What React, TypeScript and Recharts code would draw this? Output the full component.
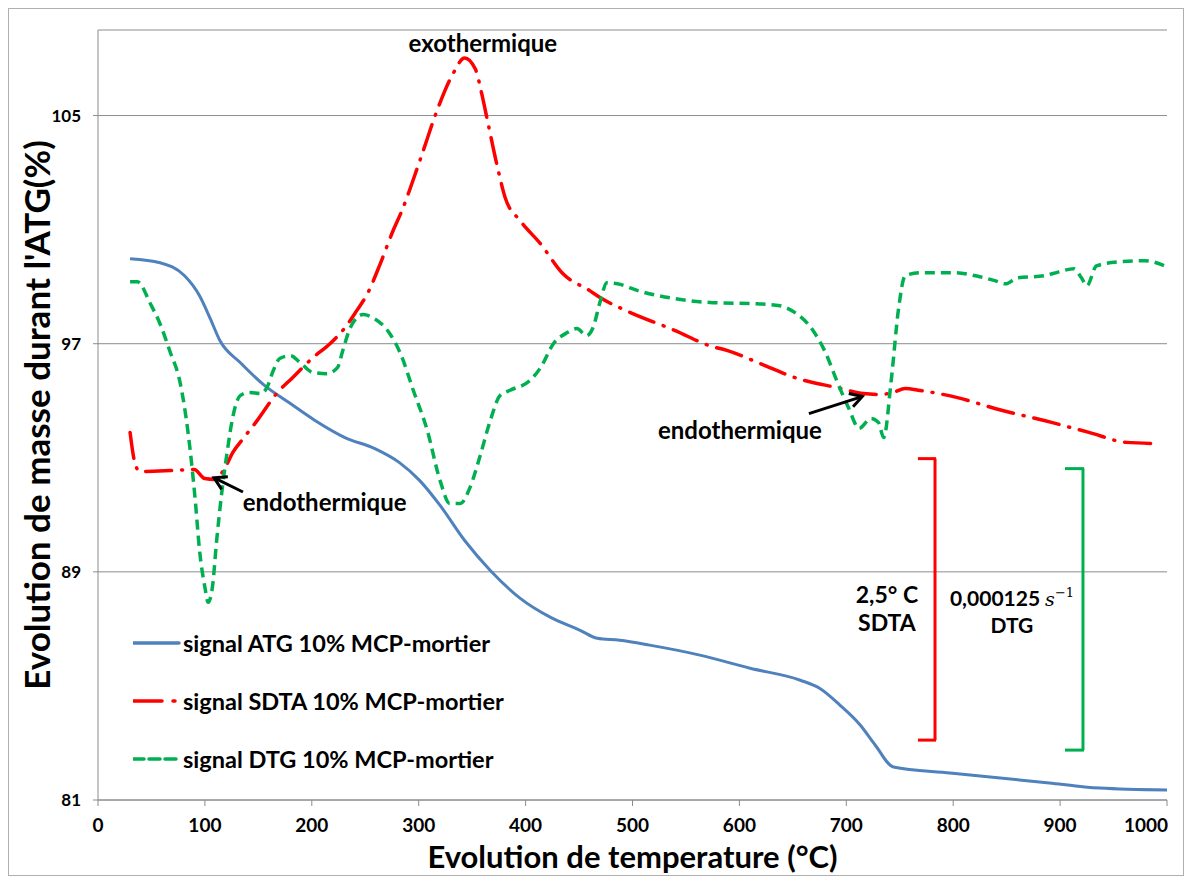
import React from "react";
import {
  LineChart,
  Line,
  XAxis,
  YAxis,
  CartesianGrid,
  Legend,
  ReferenceLine,
  ReferenceDot,
} from "recharts";

// ATG (mass %)
const atgTemp = [30, 58, 81, 95, 105, 114, 133, 156, 180, 203, 231, 259, 282, 301, 320, 343, 367, 395, 423, 451, 467, 488, 516, 563, 610, 657, 675, 694, 713, 727, 744, 797, 844, 890, 923, 937, 1000];
const atgMass = [99.98, 99.84, 99.38, 98.68, 97.88, 97.11, 96.34, 95.53, 94.9, 94.31, 93.71, 93.32, 92.83, 92.2, 91.33, 90.1, 89.05, 88.07, 87.41, 86.95, 86.67, 86.6, 86.43, 86.08, 85.62, 85.2, 84.92, 84.33, 83.63, 82.93, 82.16, 81.95, 81.77, 81.6, 81.46, 81.42, 81.35];

// SDTA (scaled on the same axis)
const sdtaTemp = [30, 34, 39, 67, 90, 100, 109, 119, 126, 136, 149, 167, 182, 201, 217, 231, 242, 252, 264, 276, 283, 301, 317, 332, 343, 353, 359, 365, 373, 381, 395, 414, 435, 460, 470, 494, 540, 572, 589, 624, 652, 695, 716, 730, 744, 755, 769, 804, 839, 892, 927, 962, 990];
const sdtaVal = [93.89, 92.9, 92.52, 92.55, 92.59, 92.27, 92.24, 92.66, 93.18, 93.68, 94.31, 95.25, 95.81, 96.51, 97.0, 97.56, 98.16, 98.75, 99.8, 100.96, 101.55, 103.41, 105.16, 106.46, 107.02, 106.63, 105.76, 104.7, 103.3, 102.11, 101.31, 100.5, 99.45, 98.86, 98.61, 98.16, 97.46, 96.93, 96.76, 96.23, 95.81, 95.43, 95.25, 95.22, 95.29, 95.43, 95.36, 95.11, 94.73, 94.24, 93.89, 93.54, 93.5];

// DTG (scaled on the same axis)
const dtgTemp = [30, 37, 49, 58, 67, 77, 84, 91, 95, 100, 103, 107, 111, 116, 121, 126, 133, 142, 152, 158, 164, 170, 180, 189, 201, 214, 224, 229, 236, 248, 257, 273, 283, 295, 308, 320, 329, 339, 348, 357, 367, 376, 385, 404, 414, 426, 439, 448, 457, 463, 470, 476, 486, 505, 540, 575, 617, 638, 652, 667, 681, 691, 702, 712, 723, 730, 735, 742, 749, 755, 769, 800, 821, 839, 849, 860, 885, 899, 913, 920, 925, 934, 955, 979, 998];
const dtgVal = [99.17, 99.17, 98.4, 97.7, 96.76, 95.6, 93.96, 91.5, 89.75, 88.46, 87.93, 88.46, 90.1, 91.85, 93.25, 94.41, 95.18, 95.29, 95.25, 95.46, 96.06, 96.48, 96.58, 96.34, 95.99, 95.95, 96.16, 96.76, 97.56, 98.02, 97.91, 97.35, 96.65, 95.36, 93.96, 92.2, 91.4, 91.4, 91.96, 93.01, 94.31, 95.18, 95.36, 95.71, 96.16, 97.0, 97.39, 97.53, 97.28, 97.56, 98.51, 99.14, 99.1, 98.86, 98.58, 98.44, 98.4, 98.33, 98.09, 97.56, 96.65, 95.71, 94.76, 94.03, 94.38, 94.24, 93.71, 95.71, 98.26, 99.38, 99.49, 99.49, 99.38, 99.21, 99.1, 99.31, 99.38, 99.52, 99.63, 99.31, 99.03, 99.73, 99.87, 99.91, 99.73];

const xTicks = [0, 100, 200, 300, 400, 500, 600, 700, 800, 900, 1000];
const yTicks = [81, 89, 97, 105];

const atgData = atgTemp.map((t, i) => ({ t, v: atgMass[i] }));
const sdtaData = sdtaTemp.map((t, i) => ({ t, v: sdtaVal[i] }));
const dtgData = dtgTemp.map((t, i) => ({ t, v: dtgVal[i] }));

const FONT = "Lato, 'Open Sans', sans-serif";
const BLUE = "#4F81BD";
const RED = "#FF0000";
const GREEN = "#00B050";
const GRAY = "#8c8c8c";

const series = [
  { name: "signal ATG 10% MCP-mortier", color: BLUE, dash: undefined as string | undefined },
  { name: "signal SDTA 10% MCP-mortier", color: RED, dash: "29 11 2 20" },
  { name: "signal DTG 10% MCP-mortier", color: GREEN, dash: "11 5" },
];

function LegendBox() {
  return (
    <div style={{ fontFamily: FONT, fontWeight: 700, fontSize: 23.5, color: "#000" }}>
      {series.map((s) => (
        <div key={s.name} style={{ display: "flex", alignItems: "center", height: 58 }}>
          <svg width={48} height={10} style={{ marginRight: 2 }}>
            <line x1={0} y1={5} x2={46} y2={5} stroke={s.color} strokeWidth={3.5} strokeDasharray={s.dash} strokeLinecap="round" />
          </svg>
          <span>{s.name}</span>
        </div>
      ))}
    </div>
  );
}

function XTick(p: any) {
  const last = p.payload.value === xTicks[xTicks.length - 1];
  return (
    <text
      x={last ? p.x + 1 : p.x}
      y={p.y}
      dy="0.71em"
      textAnchor={last ? "end" : "middle"}
      fontFamily={FONT}
      fontWeight={700}
      fontSize={19}
      fill="#000"
    >
      {p.payload.value}
    </text>
  );
}

function Arrow(p: any) {
  const { x1, y1, x2, y2 } = p;
  const a = Math.atan2(y2 - y1, x2 - x1);
  const L = 12;
  const W = 7;
  const bx = x2 - L * Math.cos(a);
  const by = y2 - L * Math.sin(a);
  const px = -Math.sin(a) * W;
  const py = Math.cos(a) * W;
  return (
    <g>
      <line x1={x1} y1={y1} x2={x2 - 2 * Math.cos(a)} y2={y2 - 2 * Math.sin(a)} stroke="#000" strokeWidth={3} />
      <polyline points={`${bx + px},${by + py} ${x2},${y2} ${bx - px},${by - py}`} fill="none" stroke="#000" strokeWidth={3} />
    </g>
  );
}

const textShape = (lines: string[], size: number) => (p: any) => (
  <text x={p.cx} y={p.cy} textAnchor="middle" fontFamily={FONT} fontWeight={700} fontSize={size} fill="#000">
    {lines.map((l, i) => (
      <tspan key={i} x={p.cx} dy={i === 0 ? size * 0.35 - ((lines.length - 1) * size * 1.25) / 2 : size * 1.25}>
        {l}
      </tspan>
    ))}
  </text>
);

const dtgScaleShape = (p: any) => (
  <text x={p.cx} y={p.cy} textAnchor="middle" fontFamily={FONT} fontWeight={700} fontSize={21} fill="#000">
    <tspan x={p.cx} dy={-6}>
      0,000125
      <tspan fontFamily="'DejaVu Serif', serif" fontStyle="italic" fontWeight={400} fontSize={19} dx={5}>s</tspan>
      <tspan fontFamily="'DejaVu Serif', serif" fontWeight={400} fontSize={13} dy={-9}>−1</tspan>
    </tspan>
    <tspan x={p.cx} dy={36}>DTG</tspan>
  </text>
);

export default function App() {
  return (
    <div style={{ width: 1174, height: 866, border: "1px solid #b0b0b0", background: "#fff" }}>
      <LineChart width={1174} height={866} margin={{ top: 21, right: 16, left: 0, bottom: 0 }}>
        <CartesianGrid vertical={false} stroke={GRAY} strokeWidth={1} />
        <XAxis
          dataKey="t"
          type="number"
          domain={[0, 1000]}
          ticks={xTicks}
          height={75}
          stroke={GRAY}
          tickSize={6}
          tickMargin={13}
          tick={<XTick />}
          label={{
            value: "Evolution de temperature (°C)",
            position: "insideBottom",
            offset: 7,
            style: { fill: "#000", fontFamily: FONT, fontWeight: 700, fontSize: 31 },
          }}
        />
        <YAxis
          type="number"
          domain={[81, 108]}
          ticks={yTicks}
          width={89}
          stroke={GRAY}
          tickSize={5}
          tickMargin={12}
          tick={{ fill: "#000", fontFamily: FONT, fontWeight: 700, fontSize: 17 }}
          label={{
            value: "Evolution de masse durant l'ATG(%)",
            angle: -90,
            position: "insideLeft",
            offset: 29,
            style: { textAnchor: "middle", fill: "#000", fontFamily: FONT, fontWeight: 700, fontSize: 35 },
          }}
        />
        <Legend
          layout="vertical"
          align="center"
          verticalAlign="middle"
          wrapperStyle={{ left: 124, top: 605, width: 440 }}
          content={() => <LegendBox />}
        />
        <Line data={atgData} dataKey="v" name={series[0].name} type="monotone" stroke={BLUE} strokeWidth={3} dot={false} isAnimationActive={false} />
        <Line data={sdtaData} dataKey="v" name={series[1].name} type="monotone" stroke={RED} strokeWidth={3.5} strokeDasharray="26 10 1 10" strokeLinecap="round" dot={false} isAnimationActive={false} />
        <Line data={dtgData} dataKey="v" name={series[2].name} type="monotone" stroke={GREEN} strokeWidth={3.5} strokeDasharray="10 6" dot={false} isAnimationActive={false} />

        {/* scale brackets */}
        <ReferenceLine segment={[{ x: 783, y: 92.97 }, { x: 783, y: 83.1 }]} stroke={RED} strokeWidth={3} />
        <ReferenceLine segment={[{ x: 767, y: 92.97 }, { x: 784, y: 92.97 }]} stroke={RED} strokeWidth={3} />
        <ReferenceLine segment={[{ x: 767, y: 83.1 }, { x: 784, y: 83.1 }]} stroke={RED} strokeWidth={3} />
        <ReferenceLine segment={[{ x: 921.4, y: 92.62 }, { x: 921.4, y: 82.75 }]} stroke={GREEN} strokeWidth={3} />
        <ReferenceLine segment={[{ x: 904.6, y: 92.62 }, { x: 922.4, y: 92.62 }]} stroke={GREEN} strokeWidth={3} />
        <ReferenceLine segment={[{ x: 904.6, y: 82.75 }, { x: 922.4, y: 82.75 }]} stroke={GREEN} strokeWidth={3} />

        {/* arrows */}
        <ReferenceLine segment={[{ x: 135.6, y: 91.8 }, { x: 108.5, y: 92.3 }]} shape={Arrow} />
        <ReferenceLine segment={[{ x: 665, y: 94.55 }, { x: 715, y: 95.15 }]} shape={Arrow} />

        {/* labels */}
        <ReferenceDot x={360} y={107.54} r={0} shape={textShape(["exothermique"], 24)} ifOverflow="visible" />
        <ReferenceDot x={212} y={91.43} r={0} shape={textShape(["endothermique"], 24)} />
        <ReferenceDot x={600.5} y={93.96} r={0} shape={textShape(["endothermique"], 24)} />
        <ReferenceDot x={738} y={87.7} r={0} shape={textShape(["2,5° C", "SDTA"], 23)} />
        <ReferenceDot x={855} y={87.6} r={0} shape={dtgScaleShape} />
      </LineChart>
    </div>
  );
}
